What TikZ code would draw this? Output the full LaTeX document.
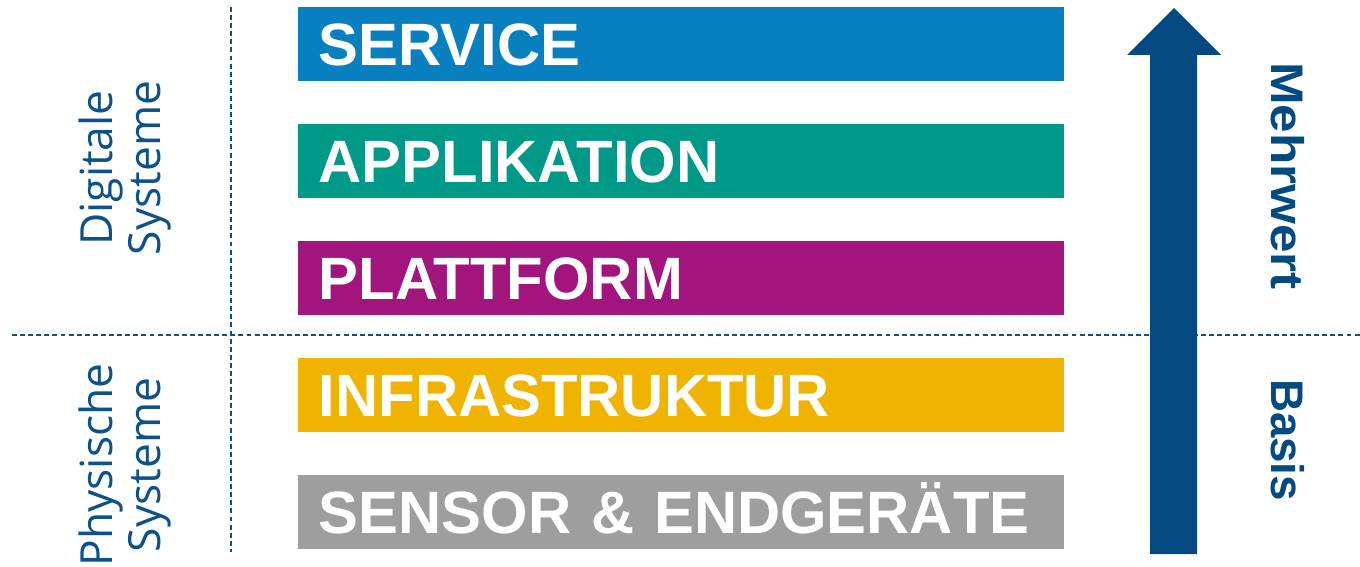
\documentclass[tikz,border=0pt]{standalone}
\usepackage{fontspec}
\setmainfont{Liberation Sans}
\newfontfamily\sidefont{Open Sans}
\usepackage{tikz}

\definecolor{servicecol}{RGB}{8,127,190}
\definecolor{appcol}{RGB}{0,152,134}
\definecolor{platcol}{RGB}{162,21,125}
\definecolor{infracol}{RGB}{240,179,0}
\definecolor{sensorcol}{RGB}{158,158,158}
\definecolor{arrowcol}{RGB}{2,74,128}
\definecolor{labelcol}{RGB}{12,80,140}

\begin{document}
\begin{tikzpicture}[x=0.01cm, y=-0.01cm,
	layer/.style={anchor=west, inner xsep=0.21cm, inner ysep=0pt, minimum height=0.73cm,
		text width=7.24cm, align=left, text height=12.2pt, text depth=0pt,
		text=white, font=\fontsize{17}{17}\selectfont\bfseries},
	sep/.style={draw=labelcol, dash pattern=on 1.4pt off 0.9pt, line width=0.55pt},
	side/.style={text=labelcol, align=center, font=\fontsize{12.6}{13.9}\sidefont},
	value/.style={text=arrowcol, font=\fontsize{13}{13}\selectfont\bfseries}]
		\useasboundingbox (0,0) rectangle (1360,567);
		% separators
		\draw[sep] (12,335) -- (1360,335);
		\draw[sep] (231,7) -- (231,552);
		% layers
		\node[layer, fill=servicecol] (service) at (297,44) {SERVICE};
		\node[layer, fill=appcol] (app) at (297,161) {APPLIKATION};
		\node[layer, fill=platcol] (platform) at (297,278) {PLATTFORM};
		\node[layer, fill=infracol] (infra) at (297,395) {INFRASTRUKTUR};
		\node[layer, fill=sensorcol] (sensor) at (297,512) {SENSOR \& ENDGERÄTE};
		% left labels
		\node[side, rotate=90] (digital) at (125,168) {Digitale\\Systeme};
		\node[side, rotate=90] (physical) at (125,465) {Physische\\Systeme};
		% value arrow
		\fill[arrowcol] (1150,554) -- (1150,55) -- (1127,55) -- (1174,8) -- (1221,55) -- (1197,55) -- (1197,554) -- cycle;
		\node[value, rotate=-90] (gain) at (1288,176) {\scalebox{1.12}[1]{Mehrwert}};
		\node[value, rotate=-90] (base) at (1288,440) {Basis};
	\end{tikzpicture}
\end{document}
